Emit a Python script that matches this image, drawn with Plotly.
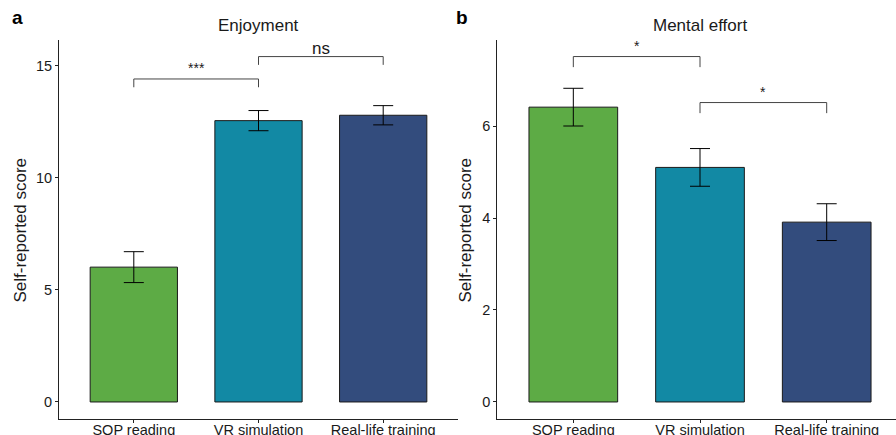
import plotly.graph_objects as go

categories = ["SOP reading", "VR simulation", "Real-life training"]
enjoyment_mean = [6.02, 12.56, 12.80]
enjoyment_err = [0.69, 0.45, 0.43]
effort_mean = [6.41, 5.10, 3.91]
effort_err = [0.41, 0.41, 0.40]
bar_colors = ["#5DAB45", "#1289A4", "#334C7D"]

# significance brackets: (from index, to index, bar height, label)
enjoy_brackets = [(0, 1, 14.42, "***"), (1, 2, 15.42, "ns")]
effort_brackets = [(0, 1, 7.51, "*"), (1, 2, 6.51, "*")]

FONT = "Liberation Sans, Arial, Helvetica, sans-serif"
W, H = 896, 435

fig = go.Figure()
for i, (means, errs) in enumerate([(enjoyment_mean, enjoyment_err), (effort_mean, effort_err)]):
    ax = "" if i == 0 else "2"
    fig.add_trace(go.Bar(
        x=categories, y=means,
        xaxis="x" + ax, yaxis="y" + ax,
        width=0.7,
        marker=dict(color=bar_colors, line=dict(color="#1a1a1a", width=1)),
        error_y=dict(type="data", array=errs, color="black", thickness=1, width=10),
        showlegend=False,
    ))

def px_x(p):
    return p / W

def px_y(p):
    return 1 - p / H

axis_common = dict(
    showgrid=False, zeroline=False, showline=True, linecolor="#222", linewidth=1,
    ticks="outside", ticklen=3, tickcolor="#222", tickwidth=1,
    tickfont=dict(family=FONT, size=14.5, color="#1a1a1a"),
)

fig.update_layout(
    width=W, height=H,
    margin=dict(l=0, r=0, t=0, b=0),
    paper_bgcolor="white", plot_bgcolor="white",
    bargap=0.3,
    xaxis=dict(domain=[px_x(59), px_x(458)], range=[-0.6, 2.6], anchor="y",
               type="category", automargin=False, ticklabelstandoff=-5, **axis_common),
    yaxis=dict(domain=[px_y(419), px_y(40)], range=[-0.76, 16.16], anchor="x",
               tickvals=[0, 5, 10, 15], automargin=False, **axis_common),
    xaxis2=dict(domain=[px_x(497.3), 1.0], range=[-0.6, 2.547], anchor="y2",
                type="category", automargin=False, ticklabelstandoff=-5, **axis_common),
    yaxis2=dict(domain=[px_y(419), px_y(40)], range=[-0.37, 7.87], anchor="x2",
                tickvals=[0, 2, 4, 6], automargin=False, **axis_common),
)

shapes = []
annotations = []
for ax, brackets, leg in [("", enjoy_brackets, 0.37), ("2", effort_brackets, 0.23)]:
    for a, b, yb, lab in brackets:
        shapes.append(dict(
            type="path", xref="x" + ax, yref="y" + ax,
            path=f"M {a},{yb - leg} L {a},{yb} L {b},{yb} L {b},{yb - leg}",
            line=dict(color="#444", width=1),
        ))
        annotations.append(dict(
            x=(a + b) / 2, y=yb, xref="x" + ax, yref="y" + ax,
            text=lab, showarrow=False, xanchor="center", yanchor="bottom",
            yshift=-3 if lab == "ns" else 1,
            font=dict(family=FONT, size=17 if lab == "ns" else 14, color="#1a1a1a"),
        ))

# panel titles, axis titles and letters
annotations += [
    dict(x=1, y=px_y(26), xref="x", yref="paper", text="Enjoyment", showarrow=False,
         xanchor="center", yanchor="middle",
         font=dict(family=FONT, size=17, color="#1a1a1a")),
    dict(x=1, y=px_y(26), xref="x2", yref="paper", text="Mental effort", showarrow=False,
         xanchor="center", yanchor="middle",
         font=dict(family=FONT, size=17, color="#1a1a1a")),
    dict(x=px_x(20), y=px_y(230.5), xref="paper", yref="paper", text="Self-reported score",
         showarrow=False, textangle=-90, xanchor="center", yanchor="middle",
         font=dict(family=FONT, size=17, color="#1a1a1a")),
    dict(x=px_x(465), y=px_y(230.5), xref="paper", yref="paper", text="Self-reported score",
         showarrow=False, textangle=-90, xanchor="center", yanchor="middle",
         font=dict(family=FONT, size=17, color="#1a1a1a")),
    dict(x=px_x(17), y=px_y(18), xref="paper", yref="paper", text="<b>a</b>", showarrow=False,
         xanchor="center", yanchor="middle",
         font=dict(family=FONT, size=19, color="black")),
    dict(x=px_x(462), y=px_y(17), xref="paper", yref="paper", text="<b>b</b>", showarrow=False,
         xanchor="center", yanchor="middle",
         font=dict(family=FONT, size=19, color="black")),
]

fig.update_layout(shapes=shapes, annotations=annotations)
fig.write_html("out.html", config={"displayModeBar": False},
               post_script="document.body.style.margin='0px';document.body.style.overflow='hidden';")
